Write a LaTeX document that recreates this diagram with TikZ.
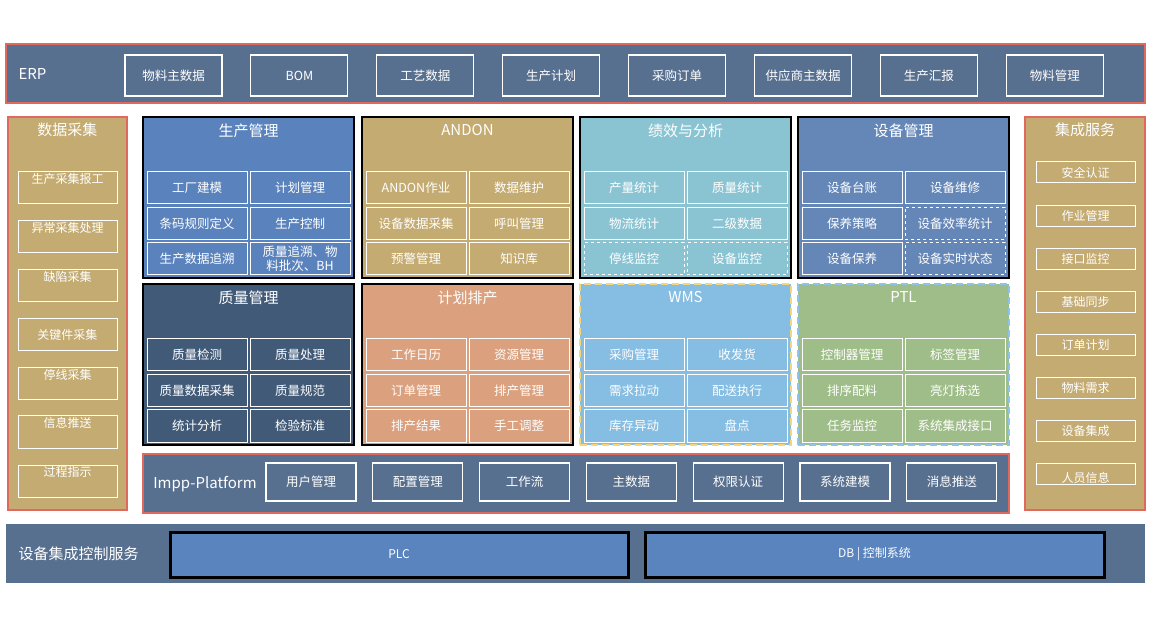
\documentclass[tikz,border=0pt]{standalone}
\usepackage{fontspec}
\setmainfont{Noto Sans CJK SC}
\definecolor{slate}{HTML}{587090}
\definecolor{redline}{HTML}{E0685E}
\definecolor{tan}{HTML}{C4AB72}
\definecolor{prodblue}{HTML}{5A83BD}
\definecolor{kpiblue}{HTML}{8AC4D3}
\definecolor{equipblue}{HTML}{6587B8}
\definecolor{qualdark}{HTML}{415A78}
\definecolor{plansalmon}{HTML}{DBA07E}
\definecolor{wmsblue}{HTML}{86BDE2}
\definecolor{ptlgreen}{HTML}{9FBD88}
\definecolor{dashyellow}{HTML}{F2D77E}
\definecolor{dashblue}{HTML}{8CC4EA}
\definecolor{plcblue}{HTML}{5A84BE}
\begin{document}
\begin{tikzpicture}[x=1pt, y=-1pt, line join=miter,
    bar/.style={draw=redline, line width=1.2pt, fill=slate},
    barlabel/.style={anchor=west, text=white, font=\fontsize{15}{18}\selectfont},
    erpbox/.style={draw=white, line width=1.1pt, minimum width=97pt,
      minimum height=41pt, text=white, font=\fontsize{12.5}{15}\selectfont},
    side/.style={draw=redline, line width=2pt, fill=tan,
      minimum width=119pt, minimum height=393pt},
    sidetitle/.style={text=white, font=\fontsize{15}{18}\selectfont},
    colbox/.style={draw=white, line width=1pt, minimum width=99pt,
      minimum height=32pt, text=white, font=\fontsize{12}{14}\selectfont},
    collabel/.style={anchor=center, text=white,
      font=\fontsize{12}{14}\selectfont},
    svcbox/.style={draw=white, line width=1pt, minimum width=99pt,
      minimum height=21pt, text=white, font=\fontsize{12}{14}\selectfont},
    module/.style={draw=black, line width=2.5pt, minimum width=211pt,
      minimum height=161pt},
    modtitle/.style={text=white, font=\fontsize{15}{18}\selectfont},
    cell/.style={draw=white, line width=1pt, minimum width=100pt,
      minimum height=32pt, text=white, align=center, inner sep=1pt,
      font=\fontsize{12.5}{14}\selectfont},
    platbox/.style={draw=white, line width=1.1pt, minimum width=90pt,
      minimum height=38pt, text=white, font=\fontsize{12.5}{15}\selectfont},
    ctrlbox/.style={draw=black, line width=3pt, fill=plcblue,
      minimum width=458pt, minimum height=45pt, text=white,
      font=\fontsize{12}{14}\selectfont}]
  \useasboundingbox[fill=white] (0,0) rectangle (1152,628);

  % ERP bar
  \node[bar, minimum width=1139pt, minimum height=59pt] (erp) at (575.5,73.5) {};
  \node[barlabel] (erp-t) at (15,74) {ERP};
  \foreach \t [count=\i from 0] in {物料主数据, BOM, 工艺数据, 生产计划,
      采购订单, 供应商主数据, 生产汇报, 物料管理}
    \node[erpbox] (erp-\i) at ({173.5+125.9*\i},75.5) {\t};

  % Data collection (left)
  \node[side] (dc) at (67.5,313.5) {};
  \node[sidetitle] (dc-t) at (67.5,130) {数据采集};
  \foreach \y/\t [count=\i] in {188/生产采集报工, 237/异常采集处理, 286/缺陷采集,
      384/停线采集, 432/信息推送, 481/过程指示}
    \node[colbox, label={[collabel, yshift=-7pt]north:\t}] (dc-\i) at (67.5,\y) {};
  \node[colbox] (dc-key) at (67.5,335) {关键件采集};

  % Integration services (right)
  \node[side, minimum width=120pt] (is) at (1085,313.5) {};
  \node[sidetitle] (is-t) at (1085,130) {集成服务};
  \foreach \t [count=\i from 0] in {安全认证, 作业管理, 接口监控, 基础同步,
      订单计划, 物料需求, 设备集成}
    \node[svcbox] (is-\i) at (1085.5,{172.5+43.1*\i}) {\t};
  \node[svcbox, label={[collabel, yshift=-4pt]center:人员信息}] (is-7) at (1085.5,474) {};

  % Row 1 modules
  \node[module, fill=prodblue] (prod) at (248.5,197.5) {};
  \node[modtitle] (prod-t) at (248.5,130.5) {生产管理};
  \foreach \c/\r/\d/\t in {0/0/solid/工厂建模, 1/0/solid/计划管理,
      0/1/solid/条码规则定义, 1/1/solid/生产控制, 0/2/solid/生产数据追溯,
      1/2/solid/{质量追溯、物\\料批次、BH}}
    \node[cell, \d] (prod-\c\r) at ({197+103*\c},{188+35.5*\r}) {\t};

  \node[module, fill=tan] (andon) at (467.5,197.5) {};
  \node[modtitle] (andon-t) at (467.5,130.5) {ANDON};
  \foreach \c/\r/\d/\t in {0/0/solid/ANDON作业, 1/0/solid/数据维护,
      0/1/solid/设备数据采集, 1/1/solid/呼叫管理, 0/2/solid/预警管理,
      1/2/solid/知识库}
    \node[cell, \d] (andon-\c\r) at ({416+103*\c},{188+35.5*\r}) {\t};

  \node[module, fill=kpiblue] (kpi) at (685.5,197.5) {};
  \node[modtitle] (kpi-t) at (685.5,130.5) {绩效与分析};
  \foreach \c/\r/\d/\t in {0/0/solid/产量统计, 1/0/solid/质量统计,
      0/1/solid/物流统计, 1/1/solid/二级数据, 0/2/dashed/停线监控,
      1/2/dashed/设备监控}
    \node[cell, \d] (kpi-\c\r) at ({634+103*\c},{188+35.5*\r}) {\t};

  \node[module, fill=equipblue] (eqp) at (903.5,197.5) {};
  \node[modtitle] (eqp-t) at (903.5,130.5) {设备管理};
  \foreach \c/\r/\d/\t in {0/0/solid/设备台账, 1/0/solid/设备维修,
      0/1/solid/保养策略, 1/1/dashed/设备效率统计, 0/2/solid/设备保养,
      1/2/dashed/设备实时状态}
    \node[cell, \d] (eqp-\c\r) at ({852+103*\c},{188+35.5*\r}) {\t};

  % Row 2 modules
  \node[module, fill=qualdark] (qual) at (248.5,364.5) {};
  \node[modtitle] (qual-t) at (248.5,297.5) {质量管理};
  \foreach \c/\r/\d/\t in {0/0/solid/质量检测, 1/0/solid/质量处理,
      0/1/solid/质量数据采集, 1/1/solid/质量规范, 0/2/solid/统计分析,
      1/2/solid/检验标准}
    \node[cell, \d] (qual-\c\r) at ({197+103*\c},{355+35.5*\r}) {\t};

  \node[module, fill=plansalmon] (plan) at (467.5,364.5) {};
  \node[modtitle] (plan-t) at (467.5,297.5) {计划排产};
  \foreach \c/\r/\d/\t in {0/0/solid/工作日历, 1/0/solid/资源管理,
      0/1/solid/订单管理, 1/1/solid/排产管理, 0/2/solid/排产结果,
      1/2/solid/手工调整}
    \node[cell, \d] (plan-\c\r) at ({416+103*\c},{355+35.5*\r}) {\t};

  \node[module, fill=wmsblue, draw=dashyellow, dash pattern=on 7pt off 4pt] (wms) at (685.5,364.5) {};
  \node[modtitle] (wms-t) at (685.5,297.5) {WMS};
  \foreach \c/\r/\d/\t in {0/0/solid/采购管理, 1/0/solid/收发货,
      0/1/solid/需求拉动, 1/1/solid/配送执行, 0/2/solid/库存异动,
      1/2/solid/盘点}
    \node[cell, \d] (wms-\c\r) at ({634+103*\c},{355+35.5*\r}) {\t};

  \node[module, fill=ptlgreen, draw=dashblue, dash pattern=on 7pt off 4pt] (ptl) at (903.5,364.5) {};
  \node[modtitle] (ptl-t) at (903.5,297.5) {PTL};
  \foreach \c/\r/\d/\t in {0/0/solid/控制器管理, 1/0/solid/标签管理,
      0/1/solid/排序配料, 1/1/solid/亮灯拣选, 0/2/solid/任务监控,
      1/2/solid/系统集成接口}
    \node[cell, \d] (ptl-\c\r) at ({852+103*\c},{355+35.5*\r}) {\t};

  % Platform bar
  \node[bar, minimum width=866pt, minimum height=59pt] (plat) at (576,483.5) {};
  \node[text=white, font=\fontsize{15}{18}\selectfont] (plat-t) at (205,484) {Impp-Platform};
  \foreach \t [count=\i from 0] in {用户管理, 配置管理, 工作流, 主数据,
      权限认证, 系统建模, 消息推送}
    \node[platbox] (plat-\i) at ({311+106.8*\i},482) {\t};

  % Device control bar
  \node[fill=slate, minimum width=1139pt, minimum height=59pt] (ctrl) at (575.5,553.5) {};
  \node[barlabel] (ctrl-t) at (15,553.5) {设备集成控制服务};
  \node[ctrlbox] (plc) at (399,554.5) {PLC};
  \node[ctrlbox, minimum width=459pt] (db) at (874.5,554.5) {DB | 控制系统};
\end{tikzpicture}
\end{document}
